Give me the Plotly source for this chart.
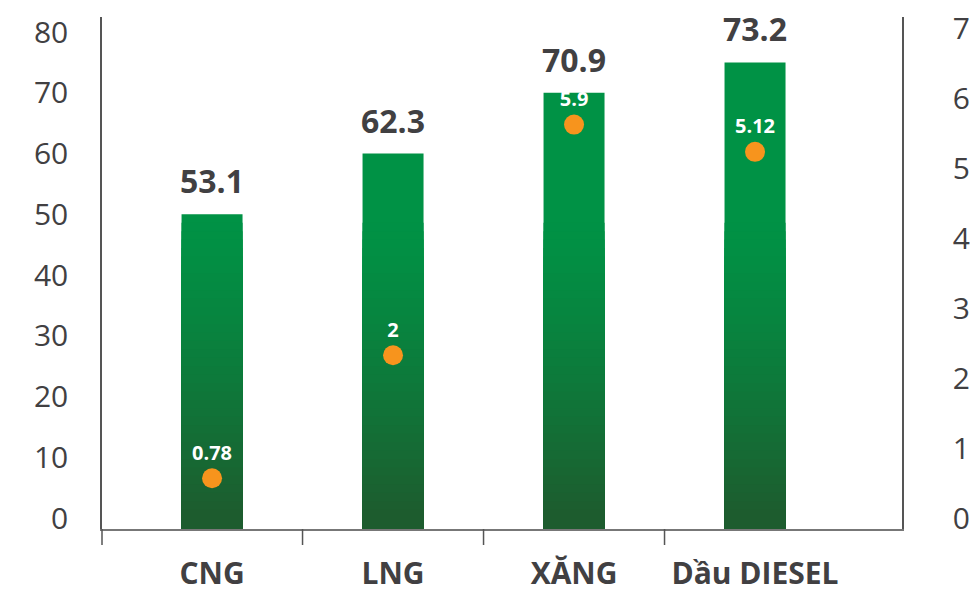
import plotly.graph_objects as go

# ---- data ----
categories = ["CNG", "LNG", "XĂNG", "Dầu DIESEL"]
bar_values = [50, 60, 70, 75]              # bar heights as drawn (left axis)
bar_labels = ["53.1", "62.3", "70.9", "73.2"]
dot_values = [0.57, 2.33, 5.63, 5.24]      # dot positions as drawn (right axis)
dot_labels = ["0.78", "2", "5.9", "5.12"]
left_ticks = [0, 10, 20, 30, 40, 50, 60, 70, 80]
right_ticks = [0, 1, 2, 3, 4, 5, 6, 7]

# ---- style ----
Y_MIN, Y_MAX = -1.81, 82.47
Y2_MIN, Y2_MAX = -0.157, 7.17
TEXT = "#414042"
FONT = "Open Sans"
TOP_GREEN = (0, 146, 69)
BOT_GREEN = (29, 92, 46)
GRAD_TOP = 50
N_LAYERS = 36
BAR_W = 0.337

fig = go.Figure()

# main bar (top colour)
fig.add_trace(go.Bar(
    x=categories, y=[v - Y_MIN for v in bar_values], base=Y_MIN,
    width=BAR_W, marker=dict(color="rgb(%d,%d,%d)" % TOP_GREEN, line=dict(width=0)),
    hoverinfo="skip", showlegend=False,
))

# gradient layers toward the bottom (ease-in so the top blends smoothly)
for k in range(1, N_LAYERS):
    h = GRAD_TOP * (1 - k / N_LAYERS)
    t = (k / (N_LAYERS - 1)) ** 1.3
    c = tuple(int(round(a + (b - a) * t)) for a, b in zip(TOP_GREEN, BOT_GREEN))
    fig.add_trace(go.Bar(
        x=categories, y=[min(v, h) - Y_MIN for v in bar_values], base=Y_MIN,
        width=BAR_W, marker=dict(color="rgb(%d,%d,%d)" % c, line=dict(width=0)),
        hoverinfo="skip", showlegend=False,
    ))

# orange dots on right axis
fig.add_trace(go.Scatter(
    x=categories, y=dot_values, yaxis="y2", mode="markers+text",
    marker=dict(size=20, color="#f7941d"),
    text=dot_labels, textposition="top center",
    textfont=dict(family=FONT, size=20, color="white", weight="bold"),
    hoverinfo="skip", showlegend=False, cliponaxis=False,
))

# bar value labels
annotations = [
    dict(x=c, y=v, xref="x", yref="y", text=t, showarrow=False,
         yanchor="bottom", yshift=10,
         font=dict(family=FONT, size=32, color=TEXT, weight="bold"))
    for c, v, t in zip(categories, bar_values, bar_labels)
]

shapes = []
# tick marks below the x axis
shapes.append(dict(type="line", xref="paper", yref="paper", x0=0, x1=0, y0=0, y1=-16 / 512,
                   line=dict(color="#555555", width=1.5)))
for b in [0.5, 1.5, 2.5]:
    shapes.append(dict(type="line", xref="x", yref="paper", x0=b, x1=b, y0=0, y1=-16 / 512,
                       line=dict(color="#555555", width=1.5)))

# page body has an 8px default margin, so the figure is offset by (8, 8)
fig.update_layout(
    width=971, height=585,
    margin=dict(l=94, r=77, t=9, b=64, autoexpand=False),
    paper_bgcolor="white", plot_bgcolor="white",
    barmode="overlay",
    font=dict(family=FONT, color=TEXT),
    shapes=shapes,
    annotations=annotations,
    xaxis=dict(
        type="category", range=[-0.608, 3.812], automargin=False,
        showline=True, linecolor="#777777", linewidth=1.5,
        showgrid=False, ticks="", zeroline=False,
        tickfont=dict(family=FONT, size=30, color=TEXT, weight="bold"),
        ticklabelstandoff=17,
    ),
    yaxis=dict(
        range=[Y_MIN, Y_MAX], tickvals=left_ticks, automargin=False,
        showline=True, linecolor="#555555", linewidth=1.5,
        showgrid=False, zeroline=False, ticks="",
        tickfont=dict(family=FONT, size=30, color=TEXT),
        ticklabelstandoff=26, ticklabeloverflow="allow",
    ),
    yaxis2=dict(
        range=[Y2_MIN, Y2_MAX], tickvals=right_ticks, overlaying="y", side="right",
        automargin=False,
        showline=True, linecolor="#555555", linewidth=1.5,
        showgrid=False, zeroline=False, ticks="",
        tickfont=dict(family=FONT, size=30, color=TEXT),
        ticklabelstandoff=43, ticklabeloverflow="allow",
    ),
)

fig.write_html("out.html")
